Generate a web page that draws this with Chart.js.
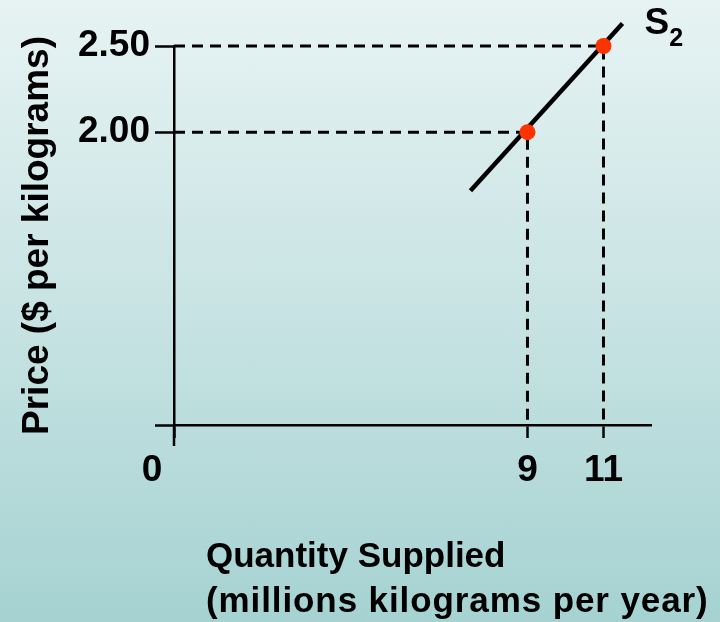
<!DOCTYPE html>
<html>
<head>
<meta charset="utf-8">
<script src="https://cdn.jsdelivr.net/npm/chart.js@4.4.0/dist/chart.umd.min.js"></script>
<style>
  html, body { margin: 0; padding: 0; }
  body {
    width: 720px; height: 622px; overflow: hidden;
    background: linear-gradient(to bottom, #e7f3f3 0%, #c8e3e3 50%, #a6d2d2 100%);
  }
  canvas { display: block; }
</style>
</head>
<body>
<canvas id="supplyChart" width="720" height="622"></canvas>
<script>
// Quantity (millions kg / year) and price ($ / kg) of the marked supply points
const quantityTicks = [9, 11];
const priceTicks = [2.0, 2.5];
const priceTickLabels = ['2.00', '2.50'];
const supplyQuantities = [9, 11];
const supplyPrices = [2.0, 2.5];

// End points of the drawn supply curve S2
const curveQuantities = [7.5, 11.5];
const curvePrices = [1.66, 2.63];

// Axis ranges (schematic diagram: the axes cross at the origin label "0")
const X_MIN = -0.3, X_MAX = 12.25;
const Y_MIN = 0.3, Y_MAX = 2.5;

const FONT = '"Liberation Sans", Arial, Helvetica, sans-serif';

const supplyPoints = supplyQuantities.map((q, i) => ({ x: q, y: supplyPrices[i] }));
const curvePoints = curveQuantities.map((q, i) => ({ x: q, y: curvePrices[i] }));

// Dashed guides from each point to both axes
const guideSets = supplyPoints.map(p => ({
  type: 'scatter',
  data: [{ x: X_MIN, y: p.y }, { x: p.x, y: p.y }, { x: p.x, y: Y_MIN }],
  showLine: true,
  borderColor: '#000',
  borderWidth: 3,
  borderDash: [11, 7],
  pointRadius: 0,
  clip: false,
  order: 2
}));

const annotations = {
  id: 'supplyAnnotations',
  afterDraw(chart) {
    const { ctx, chartArea, scales } = chart;
    const xs = scales.x, ys = scales.y;
    ctx.save();
    // vertical axis continues a little below the origin
    ctx.strokeStyle = '#000';
    ctx.lineWidth = 2.5;
    ctx.beginPath();
    ctx.moveTo(chartArea.left, chartArea.bottom);
    ctx.lineTo(chartArea.left, chartArea.bottom + 21);
    ctx.stroke();

    ctx.fillStyle = '#000';
    // origin label
    ctx.font = 'bold 37px ' + FONT;
    ctx.textAlign = 'center';
    ctx.textBaseline = 'middle';
    ctx.fillText('0', chartArea.left - 22, chartArea.bottom + 46);

    // curve name S2 next to the top of the curve
    const last = curvePoints[curvePoints.length - 1];
    const px = xs.getPixelForValue(last.x);
    const py = ys.getPixelForValue(last.y);
    ctx.textAlign = 'left';
    ctx.font = 'bold 37px ' + FONT;
    ctx.fillText('S', px + 22, py);
    const sw = ctx.measureText('S').width;
    ctx.font = 'bold 25px ' + FONT;
    ctx.fillText('2', px + 22 + sw, py + 16);

    // horizontal axis caption, two left-aligned lines
    ctx.font = 'bold 35px ' + FONT;
    ctx.textBaseline = 'alphabetic';
    ctx.fillText('Quantity Supplied', chartArea.left + 32, chartArea.bottom + 142);
    ctx.letterSpacing = '0.9px';
    ctx.fillText('(millions kilograms per year)', chartArea.left + 32, chartArea.bottom + 187);
    ctx.letterSpacing = '0px';
    ctx.restore();
  }
};

new Chart(document.getElementById('supplyChart'), {
  type: 'scatter',
  data: {
    datasets: [
      {
        label: 'Supply points',
        data: supplyPoints,
        pointRadius: 8,
        pointBackgroundColor: '#ff3300',
        pointBorderWidth: 0,
        clip: false,
        order: 0
      },
      {
        label: 'S2',
        data: curvePoints,
        showLine: true,
        borderColor: '#000',
        borderWidth: 4.5,
        borderCapStyle: 'butt',
        pointRadius: 0,
        clip: false,
        order: 1
      },
      ...guideSets
    ]
  },
  options: {
    responsive: false,
    animation: false,
    events: [],
    layout: { padding: { top: 46, right: 69, left: 0, bottom: 0 } },
    plugins: { legend: { display: false }, tooltip: { enabled: false } },
    scales: {
      x: {
        type: 'linear',
        min: X_MIN,
        max: X_MAX,
        afterBuildTicks: s => { s.ticks = [X_MIN, ...quantityTicks].map(v => ({ value: v })); },
        afterFit: s => { s.height = 197; },
        ticks: {
          autoSkip: false,
          maxRotation: 0,
          padding: 11,
          color: '#000',
          font: { family: FONT, size: 37, weight: 'bold' },
          callback: v => quantityTicks.includes(v) ? String(v) : ''
        },
        grid: { drawOnChartArea: false, tickLength: 13, tickColor: '#000', tickWidth: 2.5 },
        border: { color: '#000', width: 2.5 }
      },
      y: {
        type: 'linear',
        min: Y_MIN,
        max: Y_MAX,
        afterBuildTicks: s => { s.ticks = [Y_MIN, ...priceTicks].map(v => ({ value: v })); },
        afterFit: s => { s.width = 174; },
        ticks: {
          autoSkip: false,
          padding: 5,
          color: '#000',
          font: { family: FONT, size: 37, weight: 'bold' },
          callback: v => {
            const i = priceTicks.indexOf(v);
            return i >= 0 ? priceTickLabels[i] : '';
          }
        },
        grid: { drawOnChartArea: false, tickLength: 19, tickColor: '#000', tickWidth: 2.5 },
        border: { color: '#000', width: 2.5 },
        title: {
          display: true,
          text: 'Price ($ per kilograms)',
          color: '#000',
          font: { family: FONT, size: 37, weight: 'bold' },
          padding: { top: 16, bottom: 0 }
        }
      }
    }
  },
  plugins: [annotations]
});
</script>
</body>
</html>
